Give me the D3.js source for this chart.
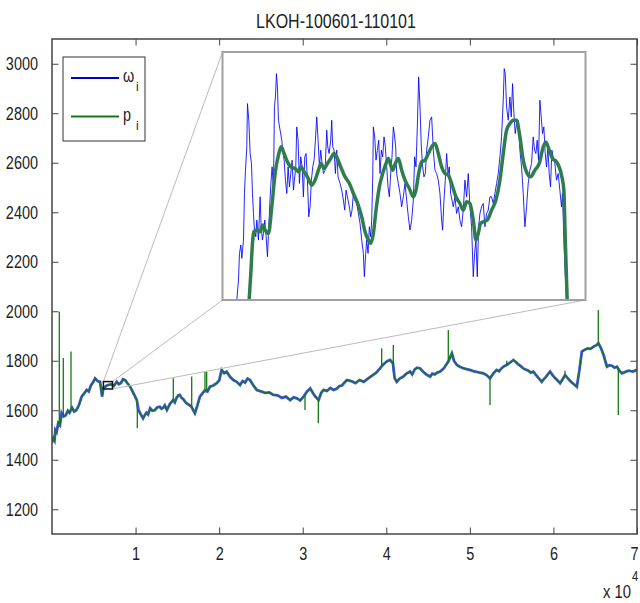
<!DOCTYPE html>
<html>
<head>
<meta charset="utf-8">
<script src="https://cdn.jsdelivr.net/npm/d3@7"></script>
<style>
  body { margin: 0; background: #fff; }
  text { font-family: "Liberation Sans", Arial, sans-serif; fill: #222; }
</style>
</head>
<body>
<div id="chart"></div>
<script>
const title = 'LKOH-100601-110101';
const yTicks = [1200, 1400, 1600, 1800, 2000, 2200, 2400, 2600, 2800, 3000];
const xTicks = [10000, 20000, 30000, 40000, 50000, 60000, 70000];
const xTickLabels = ['1', '2', '3', '4', '5', '6', '7'];
const seriesNames = ['ω', 'p'];

// main trace (sample index, price)
const mainX = [0, 150, 300, 400, 550, 750, 950, 1150, 1400, 1650, 1900, 2100, 2400, 2650, 2900, 3200, 3550, 3850, 4150, 4400,
  4650, 4900, 5150, 5450, 5750, 6000, 6150, 6550, 7050, 7400, 7750, 8000, 8250, 8500, 8750, 9050, 9350, 9800, 10150, 10350,
  10600, 10900, 11100, 11300, 11500, 11750, 12000, 12300, 12600, 12900, 13100, 13300, 13500, 13750, 14100, 14500, 14700, 14900, 15100, 15300,
  15500, 15700, 15900, 16100, 16400, 16700, 16900, 17100, 17400, 17700, 18000, 18300, 18600, 18900, 19300, 19700, 20000, 20300, 20600, 20900,
  21300, 21700, 22100, 22500, 22800, 23100, 23400, 23700, 24100, 24500, 25000, 25500, 26000, 26500, 27000, 27500, 28000, 28500, 28900, 29300,
  29700, 30100, 30500, 30900, 31400, 31900, 32200, 32500, 32900, 33300, 33700, 34100, 34400, 34700, 35000, 35300, 35800, 36300, 36800, 37300,
  37800, 38300, 38800, 39250, 39500, 39800, 40100, 40450, 40800, 41000, 41250, 41600, 42000, 42400, 42850, 43100, 43400, 43700, 44050, 44300,
  44600, 44900, 45250, 45500, 45800, 46100, 46450, 46900, 47400, 47850, 48100, 48450, 48800, 49200, 49600, 50000, 50400, 50800, 51200, 51600,
  52000, 52400, 52800, 53200, 53500, 53800, 54100, 54400, 54800, 55200, 55500, 55800, 56100, 56400, 56700, 57000, 57300, 57600, 57850, 58100,
  58350, 58600, 58850, 59100, 59350, 59600, 59900, 60200, 60500, 60800, 61100, 61400, 61750, 62100, 62450, 62800, 63100, 63400, 63750, 64100,
  64450, 64800, 65100, 65400, 65700, 66000, 66200, 66400, 66700, 67000, 67300, 67600, 67900, 68200, 68600, 69000, 69500, 70000];
const mainOmega = [1470, 1487, 1478, 1520, 1512, 1548, 1540, 1589, 1575, 1580, 1598, 1590, 1610, 1595, 1600, 1618, 1655, 1668, 1682, 1676,
  1700, 1712, 1729, 1718, 1715, 1655, 1690, 1700, 1705, 1698, 1715, 1705, 1710, 1725, 1722, 1708, 1695, 1665, 1641, 1601,
  1585, 1567, 1580, 1590, 1583, 1608, 1598, 1600, 1612, 1614, 1606, 1610, 1620, 1601, 1625, 1641, 1632, 1650, 1660, 1662,
  1650, 1645, 1636, 1628, 1622, 1614, 1600, 1588, 1620, 1655, 1668, 1680, 1676, 1695, 1700, 1709, 1720, 1763, 1750, 1756,
  1735, 1722, 1715, 1702, 1718, 1712, 1728, 1722, 1700, 1682, 1676, 1670, 1672, 1662, 1660, 1650, 1655, 1641, 1652, 1648,
  1640, 1655, 1675, 1688, 1660, 1641, 1670, 1682, 1678, 1690, 1682, 1688, 1698, 1700, 1712, 1722, 1718, 1710, 1722, 1715,
  1728, 1740, 1752, 1769, 1780, 1790, 1798, 1803, 1790, 1730, 1715, 1728, 1735, 1748, 1756, 1745, 1765, 1772, 1769, 1760,
  1750, 1742, 1736, 1748, 1745, 1752, 1756, 1770, 1796, 1830, 1800, 1783, 1776, 1770, 1766, 1763, 1758, 1755, 1752, 1749,
  1742, 1729, 1748, 1763, 1758, 1770, 1778, 1783, 1792, 1803, 1795, 1785, 1778, 1769, 1764, 1760, 1752, 1756, 1745, 1735,
  1725, 1715, 1726, 1735, 1746, 1756, 1742, 1730, 1720, 1709, 1725, 1742, 1728, 1715, 1705, 1695, 1760, 1837, 1845, 1850,
  1848, 1857, 1862, 1870, 1850, 1823, 1800, 1776, 1782, 1780, 1772, 1776, 1760, 1749, 1755, 1760, 1756, 1763];

// spikes in p
const spikeX = [874, 1352, 2274, 10207, 14515, 16716, 18308, 18510, 30274, 31866, 39449, 40840, 47421, 52410, 54408, 61384, 65368, 67763];
const spikeBase = [1560, 1585, 1605, 1600, 1641, 1614, 1680, 1685, 1660, 1641, 1775, 1760, 1796, 1729, 1783, 1742, 1870, 1770];
const spikePeak = [1998, 1811, 1837, 1527, 1729, 1736, 1756, 1756, 1601, 1547, 1850, 1864, 1924, 1621, 1800, 1760, 2005, 1581];

// zoomed window
const zoomX = [6150, 7240];
const zoomY = [1686, 1715.8];

const insetX = [6193, 6198, 6201, 6205, 6208, 6213, 6216, 6219, 6223, 6225, 6229, 6233, 6237, 6240, 6243, 6246, 6250, 6253, 6258, 6263,
  6266, 6270, 6273, 6277, 6281, 6285, 6289, 6293, 6296, 6299, 6303, 6306, 6309, 6312, 6315, 6318, 6323, 6328, 6331, 6335,
  6339, 6343, 6347, 6351, 6355, 6359, 6363, 6366, 6370, 6373, 6377, 6381, 6385, 6389, 6393, 6397, 6401, 6405, 6409, 6413,
  6417, 6421, 6425, 6429, 6433, 6437, 6441, 6445, 6449, 6453, 6458, 6463, 6466, 6470, 6475, 6478, 6481, 6485, 6489, 6493,
  6497, 6503, 6508, 6513, 6517, 6521, 6525, 6531, 6535, 6539, 6543, 6547, 6553, 6558, 6563, 6568, 6573, 6576, 6580, 6583,
  6587, 6591, 6595, 6598, 6601, 6603, 6607, 6611, 6615, 6619, 6623, 6627, 6631, 6635, 6639, 6643, 6647, 6651, 6655, 6659,
  6663, 6666, 6670, 6673, 6678, 6683, 6688, 6693, 6698, 6703, 6708, 6713, 6718, 6723, 6727, 6731, 6735, 6739, 6743, 6747,
  6751, 6755, 6759, 6763, 6768, 6773, 6778, 6783, 6788, 6793, 6798, 6803, 6808, 6811, 6815, 6819, 6823, 6827, 6831, 6835,
  6839, 6843, 6848, 6853, 6858, 6863, 6868, 6873, 6878, 6883, 6888, 6893, 6898, 6903, 6907, 6911, 6915, 6919, 6923, 6928,
  6933, 6938, 6943, 6948, 6953, 6958, 6963, 6968, 6973, 6978, 6983, 6988, 6993, 6996, 6999, 7003, 7008, 7013, 7017, 7021,
  7025, 7029, 7033, 7038, 7043, 7048, 7053, 7058, 7063, 7068, 7073, 7078, 7083, 7087, 7091, 7095, 7099, 7103, 7107, 7111,
  7115, 7119, 7123, 7127, 7131, 7135, 7139, 7143, 7148, 7153, 7158, 7163, 7168, 7171, 7175, 7179, 7183];
const insetOmega = [1686.0, 1688.4, 1691.6, 1692.6, 1691.0, 1693.2, 1698.8, 1701.6, 1704.4, 1709.6, 1707.6, 1703.6, 1702.4, 1698.8, 1696.4, 1694.4, 1693.6, 1695.6, 1693.2, 1698.4,
  1694.8, 1693.2, 1694.0, 1695.6, 1693.6, 1691.2, 1694.8, 1698.4, 1700.4, 1702.0, 1699.2, 1709.2, 1710.4, 1713.2, 1711.6, 1707.6, 1706.4, 1705.2, 1704.0, 1702.8,
  1700.4, 1698.8, 1702.0, 1699.6, 1701.2, 1702.8, 1699.2, 1700.4, 1702.0, 1706.8, 1705.2, 1700.0, 1703.2, 1702.0, 1698.4, 1703.2, 1703.6, 1700.4, 1696.0, 1697.2,
  1700.4, 1702.0, 1702.8, 1705.2, 1708.0, 1705.2, 1702.0, 1704.0, 1702.4, 1701.2, 1701.6, 1706.4, 1704.4, 1703.6, 1705.2, 1707.6, 1704.4, 1704.0, 1701.2, 1704.0,
  1700.8, 1700.0, 1699.2, 1698.0, 1696.8, 1699.2, 1698.4, 1697.2, 1696.0, 1696.8, 1698.8, 1698.0, 1697.6, 1696.4, 1695.2, 1693.2, 1691.6, 1688.8, 1691.6, 1693.2,
  1691.6, 1694.8, 1693.6, 1695.6, 1700.4, 1706.8, 1705.6, 1702.8, 1704.0, 1705.2, 1701.2, 1704.0, 1703.2, 1705.6, 1704.4, 1702.0, 1699.6, 1698.4, 1701.2, 1703.2,
  1706.8, 1706.0, 1704.4, 1701.2, 1700.0, 1698.8, 1697.2, 1698.4, 1700.0, 1698.0, 1696.0, 1694.4, 1695.6, 1698.0, 1703.2, 1702.0, 1706.8, 1712.8, 1709.2, 1704.4,
  1702.0, 1700.8, 1701.2, 1704.0, 1705.6, 1707.6, 1708.0, 1704.0, 1701.6, 1701.2, 1700.4, 1698.8, 1695.6, 1694.4, 1698.0, 1700.4, 1703.6, 1701.2, 1702.0, 1698.8,
  1698.0, 1697.2, 1698.4, 1696.4, 1697.2, 1695.6, 1694.8, 1696.8, 1700.4, 1698.4, 1701.2, 1697.2, 1694.8, 1688.8, 1691.6, 1693.2, 1688.8, 1694.8, 1696.4, 1697.2,
  1697.6, 1694.8, 1696.4, 1696.8, 1698.4, 1698.4, 1697.6, 1698.8, 1700.0, 1701.2, 1703.2, 1705.6, 1710.0, 1713.8, 1713.2, 1709.2, 1707.6, 1710.4, 1708.0, 1712.0,
  1708.4, 1706.0, 1707.2, 1707.6, 1704.0, 1702.0, 1698.8, 1694.8, 1697.2, 1700.0, 1701.6, 1702.4, 1705.6, 1704.0, 1703.6, 1705.2, 1702.8, 1710.0, 1708.0, 1706.0,
  1706.8, 1703.6, 1702.0, 1704.4, 1701.2, 1699.6, 1704.0, 1703.2, 1702.4, 1700.4, 1701.2, 1699.2, 1697.2, 1698.8, 1693.2, 1689.2, 1686.0];

const insetPX = [6230, 6235, 6240, 6244, 6253, 6263, 6271, 6278, 6288, 6298, 6308, 6318, 6326, 6335, 6345, 6355, 6368, 6378, 6385, 6395,
  6405, 6418, 6428, 6438, 6446, 6455, 6465, 6475, 6485, 6495, 6505, 6518, 6531, 6543, 6556, 6568, 6578, 6588, 6595, 6603,
  6611, 6621, 6631, 6641, 6648, 6655, 6661, 6669, 6678, 6688, 6698, 6711, 6723, 6731, 6739, 6748, 6758, 6768, 6778, 6788,
  6798, 6808, 6818, 6828, 6838, 6851, 6863, 6873, 6883, 6893, 6903, 6911, 6918, 6925, 6933, 6945, 6958, 6971, 6983, 6993,
  7003, 7013, 7023, 7033, 7043, 7053, 7065, 7075, 7088, 7101, 7113, 7121, 7131, 7141, 7153, 7168, 7175, 7179, 7185];
const insetP = [1686.0, 1689.2, 1692.8, 1694.2, 1694.4, 1694.2, 1695.0, 1694.4, 1694.0, 1697.2, 1701.2, 1703.4, 1704.4, 1703.6, 1702.6, 1702.0, 1701.8, 1701.4, 1702.0, 1701.4,
  1700.8, 1699.8, 1700.4, 1701.6, 1702.4, 1701.8, 1702.4, 1703.0, 1703.6, 1703.0, 1702.0, 1700.8, 1700.0, 1698.8, 1697.6, 1696.0, 1694.2, 1693.2, 1692.8, 1694.0,
  1696.8, 1699.6, 1701.2, 1702.4, 1703.0, 1702.2, 1701.6, 1702.4, 1703.0, 1701.6, 1700.4, 1699.4, 1698.4, 1699.2, 1701.2, 1702.6, 1702.8, 1703.6, 1704.4, 1704.8,
  1703.6, 1702.0, 1701.2, 1701.0, 1700.0, 1698.4, 1697.6, 1696.8, 1697.8, 1697.6, 1695.6, 1693.2, 1694.0, 1695.2, 1695.4, 1695.6, 1696.8, 1698.0, 1700.4, 1703.6,
  1706.4, 1707.2, 1707.6, 1707.6, 1705.6, 1702.8, 1701.2, 1700.8, 1701.6, 1702.4, 1704.4, 1705.0, 1704.0, 1703.0, 1702.6, 1701.0, 1699.2, 1693.6, 1686.0];

const blue = '#0000ff';
const green = '#137a13';

const width = 640, height = 603;
const plot = {left: 52, right: 637, top: 39, bottom: 534};
const insetBox = {left: 222.5, right: 585.5, top: 52, bottom: 300};

const svg = d3.select('#chart').append('svg')
  .attr('width', width)
  .attr('height', height)
  .attr('viewBox', [0, 0, width, height]);

svg.append('rect').attr('width', width).attr('height', height).attr('fill', '#fff');

const x = d3.scaleLinear().domain([0, 70000]).range([plot.left, plot.right]);
const y = d3.scaleLinear().domain([1100, 3100]).range([plot.bottom, plot.top]);

// squeeze text like the narrow original font
function narrow(sel, k) {
  sel.each(function() {
    const w = this.getComputedTextLength();
    this.setAttribute('textLength', w * k);
    this.setAttribute('lengthAdjust', 'spacingAndGlyphs');
  });
}

const defs = svg.append('defs');
defs.append('clipPath').attr('id', 'plot-clip')
  .append('rect')
  .attr('x', plot.left).attr('y', plot.top)
  .attr('width', plot.right - plot.left).attr('height', plot.bottom - plot.top);

defs.append('clipPath').attr('id', 'inset-clip')
  .append('rect')
  .attr('x', insetBox.left).attr('y', insetBox.top)
  .attr('width', insetBox.right - insetBox.left).attr('height', insetBox.bottom - insetBox.top);

// main series
const omegaData = mainX.map((v, i) => [v, mainOmega[i]]);
const pData = omegaData.slice();
spikeX.forEach((v, i) => {
  pData.push([v, spikeBase[i]], [v, spikePeak[i]], [v + 1, spikeBase[i]]);
});
pData.sort((a, b) => a[0] - b[0]);

const line = d3.line().x(d => x(d[0])).y(d => y(d[1]));

const series = svg.append('g').attr('clip-path', 'url(#plot-clip)');
series.append('path')
  .attr('d', line(omegaData))
  .attr('fill', 'none')
  .attr('stroke', blue)
  .attr('stroke-width', 2.8)
  .attr('stroke-opacity', 0.7);
series.append('path')
  .attr('d', line(pData))
  .attr('fill', 'none')
  .attr('stroke', green)
  .attr('stroke-width', 1.3);

// axes box with inward ticks
const axisColor = '#444';
const axes = svg.append('g');
axes.append('rect')
  .attr('x', plot.left).attr('y', plot.top)
  .attr('width', plot.right - plot.left).attr('height', plot.bottom - plot.top)
  .attr('fill', 'none').attr('stroke', axisColor).attr('stroke-width', 1.5);

axes.append('g')
  .attr('transform', `translate(0,${plot.bottom})`)
  .call(d3.axisBottom(x).tickValues(xTicks).tickSizeInner(-6.5).tickSizeOuter(0).tickFormat((d, i) => xTickLabels[i]).tickPadding(13))
  .call(g => g.select('.domain').remove())
  .call(g => g.selectAll('.tick line').attr('stroke', axisColor))
  .call(g => g.selectAll('.tick text').attr('font-size', 19).attr('fill', '#222').attr('font-family', null).call(narrow, 0.76))
  .call(g => g.selectAll('.tick:last-of-type text').attr('dx', -3));

axes.append('g')
  .attr('transform', `translate(0,${plot.top})`)
  .call(d3.axisTop(x).tickValues(xTicks).tickSizeInner(-6.5).tickSizeOuter(0).tickFormat(''))
  .call(g => g.select('.domain').remove())
  .call(g => g.selectAll('.tick line').attr('stroke', axisColor));

axes.append('g')
  .attr('transform', `translate(${plot.left},0)`)
  .call(d3.axisLeft(y).tickValues(yTicks).tickSizeInner(-6.5).tickSizeOuter(0).tickFormat(d3.format('d')).tickPadding(14))
  .call(g => g.select('.domain').remove())
  .call(g => g.selectAll('.tick line').attr('stroke', axisColor))
  .call(g => g.selectAll('.tick text').attr('font-size', 19).attr('fill', '#222').attr('font-family', null).call(narrow, 0.76));

axes.append('g')
  .attr('transform', `translate(${plot.right},0)`)
  .call(d3.axisRight(y).tickValues(yTicks).tickSizeInner(-6.5).tickSizeOuter(0).tickFormat(''))
  .call(g => g.select('.domain').remove())
  .call(g => g.selectAll('.tick line').attr('stroke', axisColor));

// x10^4 exponent label
const expo = svg.append('g');
expo.append('text')
  .attr('x', 631).attr('y', 598)
  .attr('text-anchor', 'end')
  .attr('font-size', 18)
  .text('x 10')
  .call(narrow, 0.82);
expo.append('text')
  .attr('x', 632).attr('y', 581)
  .attr('font-size', 14)
  .text('4')
  .call(narrow, 0.8);

// title
svg.append('text')
  .attr('x', 336).attr('y', 28)
  .attr('text-anchor', 'middle')
  .attr('font-size', 20)
  .text(title)
  .call(narrow, 0.8);

// zoom rectangle and connectors
const zx0 = x(zoomX[0]), zx1 = x(zoomX[1]);
const zy0 = y(zoomY[0]), zy1 = y(zoomY[1]);
const connectors = [
  [zx0, zy1, insetBox.left, insetBox.top],
  [zx1, zy1, insetBox.left, insetBox.bottom],
  [zx1, zy0, insetBox.right, insetBox.bottom]
];
svg.append('g')
  .selectAll('line')
  .data(connectors)
  .join('line')
  .attr('x1', d => d[0]).attr('y1', d => d[1])
  .attr('x2', d => d[2]).attr('y2', d => d[3])
  .attr('stroke', '#bbb')
  .attr('stroke-width', 1);

svg.append('rect')
  .attr('x', zx0).attr('y', zy1)
  .attr('width', zx1 - zx0).attr('height', zy0 - zy1)
  .attr('fill', 'none')
  .attr('stroke', '#111')
  .attr('stroke-width', 1.5);

// inset
const ix = d3.scaleLinear().domain(zoomX).range([insetBox.left, insetBox.right]);
const iy = d3.scaleLinear().domain(zoomY).range([insetBox.bottom, insetBox.top]);

svg.append('rect')
  .attr('x', insetBox.left).attr('y', insetBox.top)
  .attr('width', insetBox.right - insetBox.left).attr('height', insetBox.bottom - insetBox.top)
  .attr('fill', '#fff');

const iline = d3.line().x(d => ix(d[0])).y(d => iy(d[1]));
const ilineSmooth = d3.line().x(d => ix(d[0])).y(d => iy(d[1])).curve(d3.curveMonotoneX);

const insetG = svg.append('g').attr('clip-path', 'url(#inset-clip)');
insetG.append('path')
  .attr('d', iline(insetX.map((v, i) => [v, insetOmega[i]])))
  .attr('fill', 'none')
  .attr('stroke', blue)
  .attr('stroke-width', 1)
  .attr('stroke-opacity', 0.85);
insetG.append('path')
  .attr('d', ilineSmooth(insetPX.map((v, i) => [v, insetP[i]])))
  .attr('fill', 'none')
  .attr('stroke', '#2e7d4e')
  .attr('stroke-width', 3.5)
  .attr('stroke-linejoin', 'round');

svg.append('rect')
  .attr('x', insetBox.left).attr('y', insetBox.top)
  .attr('width', insetBox.right - insetBox.left).attr('height', insetBox.bottom - insetBox.top)
  .attr('fill', 'none')
  .attr('stroke', '#a0a0a0')
  .attr('stroke-width', 2);

// legend
const legend = svg.append('g').attr('transform', 'translate(63,57)');
legend.append('rect')
  .attr('width', 82).attr('height', 84)
  .attr('fill', '#fff')
  .attr('stroke', '#333')
  .attr('stroke-width', 1);

const legendColors = ['#0000cc', green];
seriesNames.forEach((name, i) => {
  const cy = 21 + i * 38.5;
  legend.append('line')
    .attr('x1', 8).attr('x2', 56)
    .attr('y1', cy).attr('y2', cy)
    .attr('stroke', legendColors[i])
    .attr('stroke-width', 2.2);
  legend.append('text')
    .attr('x', 60).attr('y', cy + 4)
    .attr('font-size', 18)
    .text(name)
    .call(narrow, 0.8);
  legend.append('text')
    .attr('x', 73).attr('y', cy + 13)
    .attr('font-size', 12)
    .text('i');
});
</script>
</body>
</html>
